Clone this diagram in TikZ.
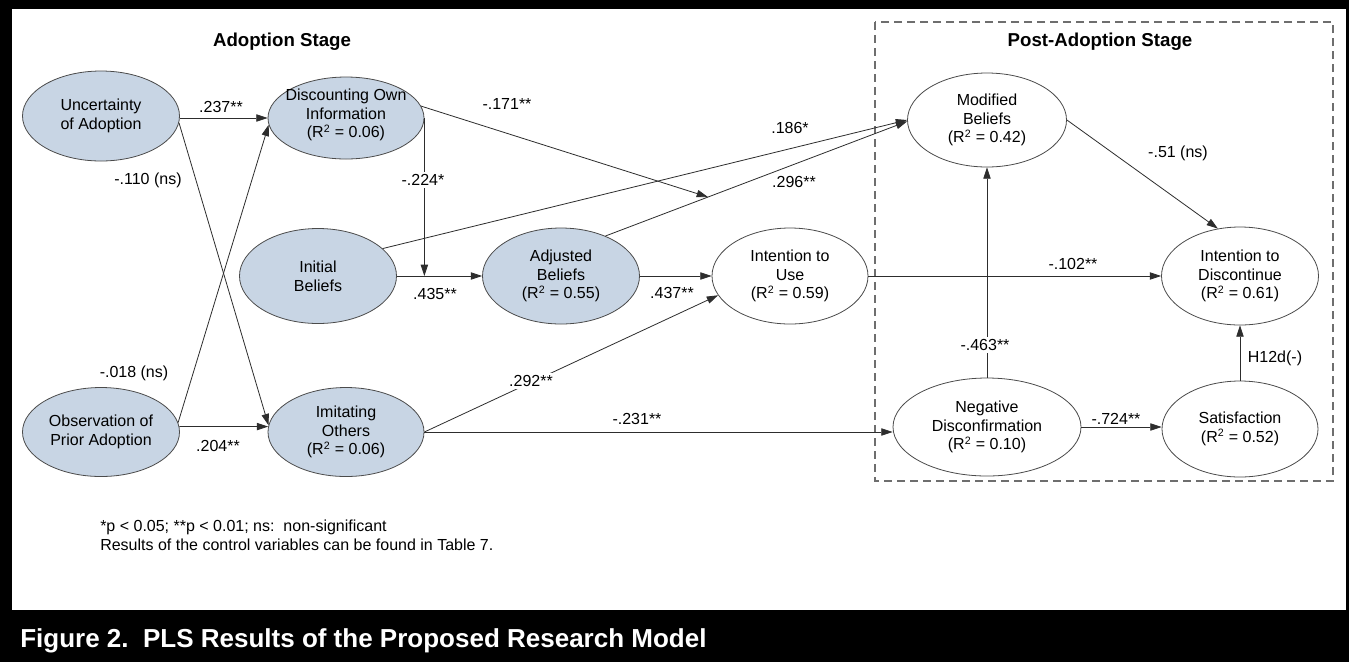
\documentclass[tikz,border=0pt]{standalone}
\usepackage{fontspec}
\setmainfont{Liberation Sans}
\usetikzlibrary{shapes.geometric,arrows.meta,calc}
\definecolor{nodefill}{RGB}{200,213,228}
\definecolor{edgecol}{RGB}{45,45,45}
\definecolor{rimcol}{RGB}{75,75,75}
\definecolor{boxgray}{RGB}{110,110,110}
\tikzset{
  txt/.style={font=\fontsize{12}{14}\selectfont, text=black},
  ell/.style={ellipse, draw=rimcol, line width=0.6pt, inner sep=0pt},
  adopt/.style={ell, fill=nodefill},
  post/.style={ell, fill=white},
  sz/.style 2 args={minimum width=#1*0.75pt, minimum height=#2*0.75pt},
  lbl/.style={txt, align=center, inner sep=0pt},
  arr/.style={draw=edgecol, line width=0.6pt, -{Triangle[length=8.5pt,width=5.5pt]}},
  elab/.style={txt, inner sep=1pt},
  cut/.style={txt, fill=white, inner sep=2pt},
  stagetitle/.style={font=\bfseries\fontsize{14}{16}\selectfont},
}
\begin{document}
\begin{tikzpicture}[x=0.75pt,y=-0.75pt]
% frame
\fill[black] (0,0) rectangle (1349,662);
\fill[white] (12,9) rectangle (1346,610);
\useasboundingbox (0,0) rectangle (1349,662);

% post-adoption box
\draw[boxgray, line width=0.9pt, dash pattern=on 6pt off 3.75pt] (875,22) rectangle (1333,481);

% titles
\node[stagetitle] (t1) at (282,42) {Adoption Stage};
\node[stagetitle] (t2) at (1100,42) {Post-Adoption Stage};

% constructs
\node[adopt, sz={157}{90}] (unc) at (101,116) {};
\node[lbl] (uncT) at (unc) {Uncertainty\\of Adoption};
\node[adopt, sz={156}{82}] (disc) at (346,118) {};
\node[lbl] (discT) at (346,115) {Discounting Own\\Information\\(R\textsuperscript{2} = 0.06)};
\node[adopt, sz={157}{95}] (ini) at (318,276) {};
\node[lbl] (iniT) at (ini) {Initial\\Beliefs};
\node[adopt, sz={157}{96}] (adj) at (561,276) {};
\node[lbl] (adjT) at (adj) {Adjusted\\Beliefs\\(R\textsuperscript{2} = 0.55)};
\node[post, sz={156}{96}] (use) at (790,276) {};
\node[lbl] (useT) at (use) {Intention to\\Use\\(R\textsuperscript{2} = 0.59)};
\node[adopt, sz={157}{89}] (obs) at (101,432) {};
\node[lbl] (obsT) at (obs) {Observation of\\Prior Adoption};
\node[adopt, sz={156}{89}] (imit) at (346,432) {};
\node[lbl] (imitT) at (imit) {Imitating\\Others\\(R\textsuperscript{2} = 0.06)};
\node[post, sz={159}{94}] (mod) at (987,120) {};
\node[lbl] (modT) at (mod) {Modified\\Beliefs\\(R\textsuperscript{2} = 0.42)};
\node[post, sz={157}{98}] (idis) at (1240,276) {};
\node[lbl] (idisT) at (idis) {Intention to\\Discontinue\\(R\textsuperscript{2} = 0.61)};
\node[post, sz={188}{98}] (negd) at (987,427) {};
\node[lbl] (negdT) at (negd) {Negative\\Disconfirmation\\(R\textsuperscript{2} = 0.10)};
\node[post, sz={156}{96}] (sat) at (1240,429) {};
\node[lbl] (satT) at (sat) {Satisfaction\\(R\textsuperscript{2} = 0.52)};

% paths
\draw[arr] (unc.east |- disc.west) -- (disc.west);
\draw[arr] (unc.-5) -- (imit.175);
\draw[arr] (obs.7) -- (disc.185);
\draw[arr] (obs.4) -- (imit.176);
\draw[arr] (disc.east) -- (disc.east |- ini.east);
\draw[arr] (ini.east) -- (adj.west);
\draw[arr] (ini.23) -- (mod.west);
\draw[arr] (adj.42) -- (mod.181);
\coordinate (m2) at ($(adj.42)!0.34!(mod.181)$);
\draw[arr] (disc.9) -- (m2);
\draw[arr] (adj.east) -- (use.west);
\draw[arr] (imit.east) -- (use.195);
\draw[arr] (imit.east) -- (imit.east -| negd.west);
\draw[arr] (use.east) -- (idis.west);
\draw[arr] (mod.east) -- (idis.115);
\draw[arr] (negd.north) -- (mod.south);
\draw[arr] (negd.east) -- (negd.east -| sat.west);
\draw[arr] (sat.north) -- (idis.south);

% path labels
\node[elab] (l1) at (221,107) {.237**};
\node[elab] (l2) at (148,180) {-.110 (ns)};
\node[elab] (l3) at (134,373) {-.018 (ns)};
\node[elab] (l4) at (218,446) {.204**};
\node[cut] (l5) at (423,180) {-.224*};
\node[elab] (l6) at (435,294) {.435**};
\node[elab] (l7) at (507,104) {-.171**};
\node[elab] (l8) at (790,128) {.186*};
\node[elab] (l9) at (794,182) {.296**};
\node[elab] (l10) at (672,293) {.437**};
\node[cut] (l11) at (531,381) {.292**};
\node[elab] (l12) at (637,419) {-.231**};
\node[elab] (l13) at (1073,264) {-.102**};
\node[elab] (l14) at (1178,153) {-.51 (ns)};
\node[cut] (l15) at (985,345) {-.463**};
\node[elab] (l16) at (1116,419) {-.724**};
\node[elab] (l17) at (1275,358) {H12d(-)};

% footnote
\node[txt, anchor=north west, align=left, inner sep=0pt] (fn) at (100,520)
  {*p < 0.05; **p < 0.01; ns:\ \ non-significant\\Results of the control variables can be found in Table 7.};

% caption
\node[anchor=west, text=white, inner sep=0pt, font=\bfseries\fontsize{19.5}{22}\selectfont] (cap) at (20,641)
  {Figure 2.\ \ PLS Results of the Proposed Research Model};
\end{tikzpicture}
\end{document}
